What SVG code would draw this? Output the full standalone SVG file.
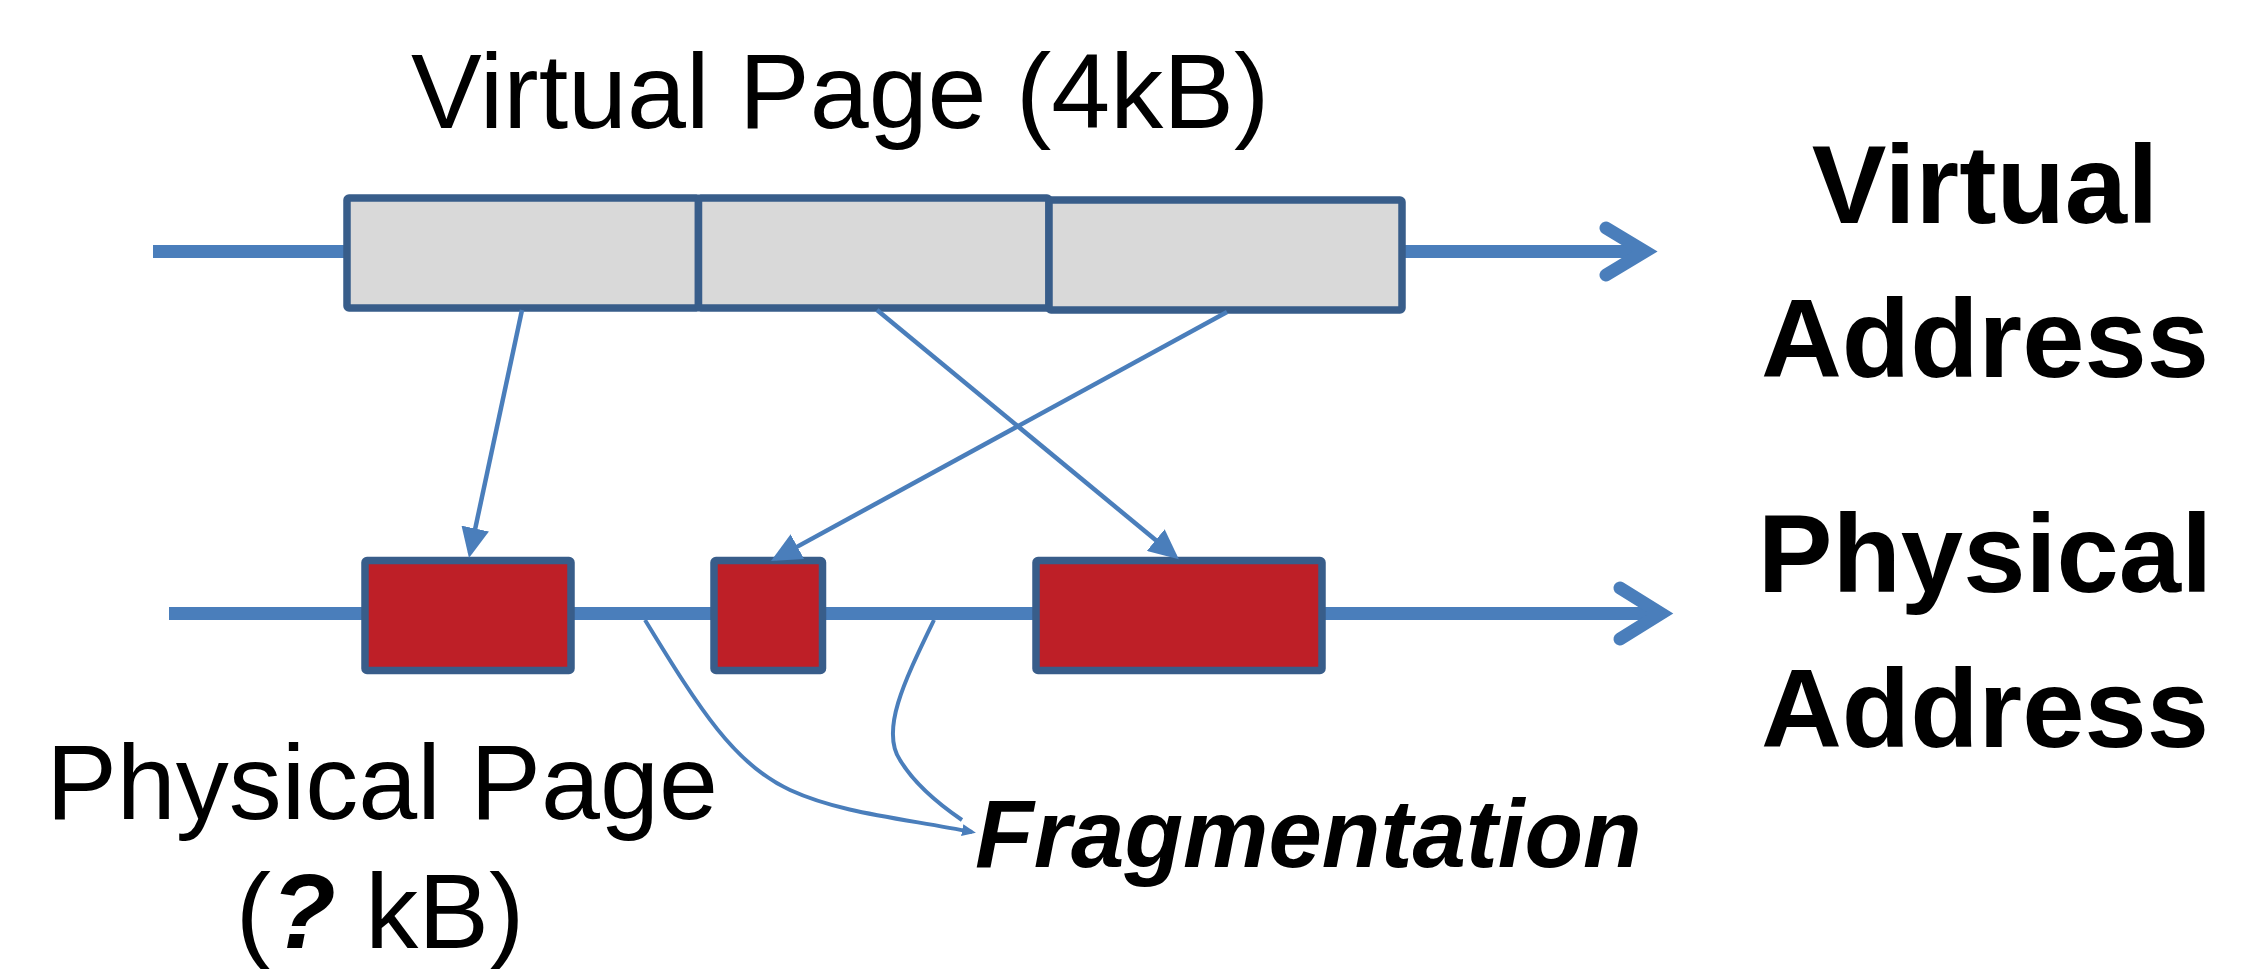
<svg xmlns="http://www.w3.org/2000/svg" width="2248" height="969" viewBox="0 0 2248 969">
  <style>
    .axis { fill: none; stroke: #4A7EBB; stroke-width: 13; }
    .axishead { fill: none; stroke: #4A7EBB; stroke-width: 13; stroke-linecap: round; stroke-linejoin: miter; stroke-miterlimit: 10; }
    .vbox { fill: #D9D9D9; stroke: #385D8A; stroke-width: 7.5; }
    .pbox { fill: #BE1F27; stroke: #385D8A; stroke-width: 7.5; }
    .conn { fill: none; stroke: #4A7EBB; stroke-width: 4.5; }
    .frag { fill: none; stroke: #4A7EBB; stroke-width: 4; }
    .lbl { font-family: "Liberation Sans", Arial, sans-serif; fill: #000; }
    .big { font-size: 106px; }
    .bold { font-size: 112px; font-weight: bold; }
  </style>
  <defs>
    <marker id="tri" markerUnits="userSpaceOnUse" viewBox="0 0 30 28" markerWidth="30" markerHeight="28" refX="25" refY="14" orient="auto">
      <path d="M0,0 L30,14 L0,28 z" fill="#4A7EBB"/>
    </marker>
    <marker id="small" markerUnits="userSpaceOnUse" viewBox="0 0 14 12" markerWidth="14" markerHeight="12" refX="10" refY="6" orient="auto">
      <path d="M0,0 L14,6 L0,12 z" fill="#4A7EBB"/>
    </marker>
  </defs>

  <g id="axes">
    <line class="axis" x1="153" y1="251.5" x2="1645" y2="251.5"/>
    <polyline class="axishead" points="1606,228 1645,251.5 1606,275"/>
    <line class="axis" x1="169" y1="613.5" x2="1661" y2="613.5"/>
    <polyline class="axishead" points="1620,588 1661,613.5 1620,639"/>
  </g>

  <g id="virtual-page-1"><rect class="vbox" x="347" y="198" width="351.5" height="110" rx="2"/></g>
  <g id="virtual-page-2"><rect class="vbox" x="698.5" y="198" width="350.5" height="110" rx="2"/></g>
  <g id="virtual-page-3"><rect class="vbox" x="1049" y="200" width="353" height="110" rx="2"/></g>

  <g id="physical-page-1"><rect class="pbox" x="365" y="560.5" width="206" height="110" rx="2"/></g>
  <g id="physical-page-2"><rect class="pbox" x="714" y="560.5" width="108.5" height="110" rx="2"/></g>
  <g id="physical-page-3"><rect class="pbox" x="1036" y="560.5" width="286" height="110" rx="2"/></g>

  <g id="connectors">
    <line class="conn" x1="522" y1="310" x2="470" y2="553" marker-end="url(#tri)"/>
    <line class="conn" x1="877" y1="310" x2="1175" y2="556" marker-end="url(#tri)"/>
    <line class="conn" x1="1227" y1="312" x2="775.4" y2="558.6" marker-end="url(#tri)"/>
    <path class="frag" d="M645,620 C700,710 735,765 790,790 C840,813 900,818 972,832" marker-end="url(#small)"/>
    <path class="frag" d="M934,620 C905,680 880,730 900,760 C915,785 940,805 962,820"/>
  </g>

  <g id="label-virtual-page">
    <text class="lbl big" x="411" y="128">Virtual Page (4kB)</text>
  </g>
  <g id="label-virtual-address">
    <text class="lbl bold" x="1985" y="223" text-anchor="middle">Virtual</text>
    <text class="lbl bold" x="1985" y="377" text-anchor="middle">Address</text>
  </g>
  <g id="label-physical-address">
    <text class="lbl bold" x="1985" y="592" text-anchor="middle">Physical</text>
    <text class="lbl bold" x="1985" y="747" text-anchor="middle">Address</text>
  </g>
  <g id="label-physical-page">
    <text class="lbl big" x="382" y="819" text-anchor="middle">Physical Page</text>
    <text class="lbl big" x="380" y="948" text-anchor="middle">(<tspan font-weight="bold" font-style="italic">?</tspan> kB)</text>
  </g>
  <g id="label-fragmentation">
    <text class="lbl" x="975" y="867" font-size="96" font-weight="bold" font-style="italic">Fragmentation</text>
  </g>
</svg>
